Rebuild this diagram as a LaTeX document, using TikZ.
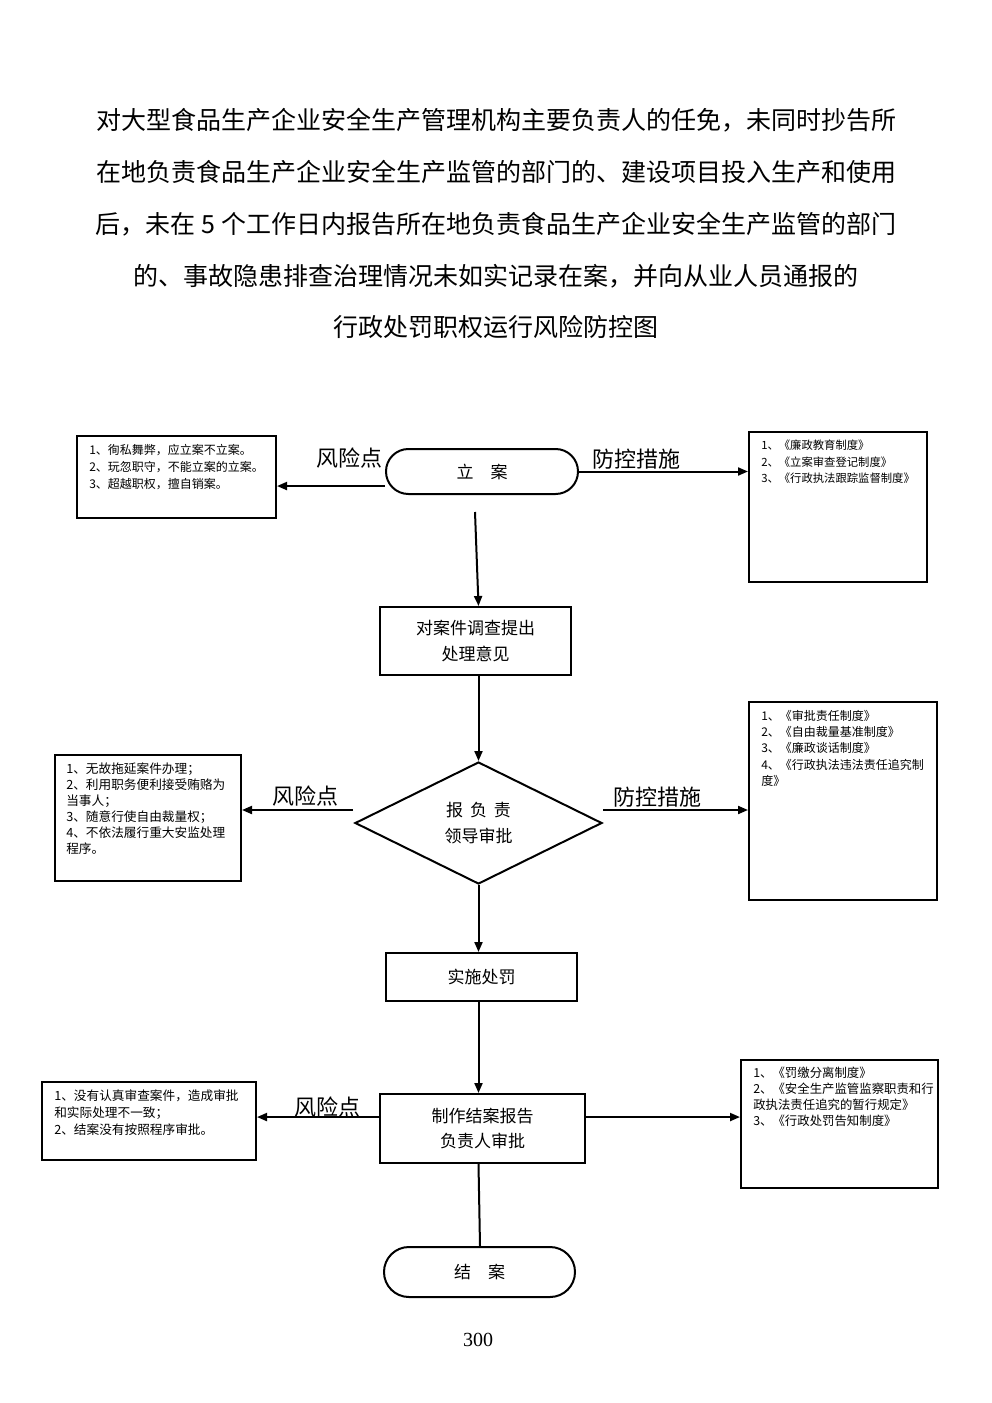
\documentclass[tikz,border=0pt]{standalone}
\usepackage{fontspec}
\setmainfont{Liberation Serif}
\newfontfamily\cjk{Noto Sans CJK SC}
\usetikzlibrary{arrows.meta,shapes.geometric}
\begin{document}
\begin{tikzpicture}[x=0.75pt,y=-0.75pt,
  every node/.style={font=\cjk},
  conn/.style={line width=1.5pt,-{Triangle[length=7.5pt,width=6pt]}},
  plainline/.style={line width=1.5pt},
  boxx/.style={draw,line width=1.5pt,inner sep=0pt},
  stad/.style={draw,line width=1.5pt,inner sep=0pt,rounded corners=16pt},
  lab/.style={font=\cjk\fontsize{12.75pt}{19pt}\selectfont,align=center},
  big/.style={font=\cjk\fontsize{16.5pt}{20pt}\selectfont},
  small/.style={anchor=north west,inner sep=0pt,align=left},
  ttl/.style={font=\cjk\fontsize{18.75pt}{22pt}\selectfont}
]
\useasboundingbox (0,0) rectangle (992,1403);
% title
\node[ttl] (t1) at (496,120) {对大型食品生产企业安全生产管理机构主要负责人的任免，未同时抄告所};
\node[ttl] (t2) at (496,172) {在地负责食品生产企业安全生产监管的部门的、建设项目投入生产和使用};
\node[ttl] (t3) at (496,224) {后，未在 5 个工作日内报告所在地负责食品生产企业安全生产监管的部门};
\node[ttl] (t4) at (496,276) {的、事故隐患排查治理情况未如实记录在案，并向从业人员通报的};
\node[ttl] (t5) at (496,327) {行政处罚职权运行风险防控图};

% main flow
\node[stad,minimum width=144pt,minimum height=33.75pt,rounded corners=16.8pt,lab] (st1) at (482,471.5) {立\hspace{1em}案};
\node[boxx,minimum width=143.25pt,minimum height=51pt,lab] (b1) at (475.5,641) {对案件调查提出\\处理意见};
\node[draw,diamond,line width=1.5pt,inner sep=0pt,minimum width=185.25pt,minimum height=91.5pt,lab] (d) at (478.5,823) {报\hspace{0.4em}负\hspace{0.4em}责\\领导审批};
\node[boxx,minimum width=143.25pt,minimum height=36pt,lab] (b2) at (481.5,977) {实施处罚};
\node[boxx,minimum width=153.75pt,minimum height=51.75pt,lab] (b3) at (482.5,1128.5) {制作结案报告\\负责人审批};
\node[stad,minimum width=143.25pt,minimum height=37.5pt,rounded corners=18.7pt,lab] (st2) at (479.5,1272) {结\hspace{1em}案};

% side boxes
\node[boxx,minimum width=149.25pt,minimum height=61.5pt] (rl1) at (176.5,477) {};
\node[boxx,minimum width=133.5pt,minimum height=112.5pt] (pr1) at (838,507) {};
\node[boxx,minimum width=139.5pt,minimum height=94.5pt] (rl2) at (148,818) {};
\node[boxx,minimum width=141pt,minimum height=148.5pt] (pr2) at (843,801) {};
\node[boxx,minimum width=160.5pt,minimum height=58.5pt] (rl3) at (149,1121) {};
\node[boxx,minimum width=147.75pt,minimum height=96pt] (pr3) at (839.5,1124) {};

% side texts
\node[small,font=\cjk\fontsize{9pt}{12.75pt}\selectfont] (rl1t) at (89,444) {1、徇私舞弊，应立案不立案。\\2、玩忽职守，不能立案的立案。\\3、超越职权，擅自销案。};
\node[small,font=\cjk\fontsize{8.5pt}{12.4pt}\selectfont] (pr1t) at (761,440) {1、《廉政教育制度》\\2、《立案审查登记制度》\\3、《行政执法跟踪监督制度》};
\node[small,font=\cjk\fontsize{9.5pt}{12pt}\selectfont] (rl2t) at (66,763) {1、无故拖延案件办理；\\2、利用职务便利接受贿赂为\\当事人；\\3、随意行使自由裁量权；\\4、不依法履行重大安监处理\\程序。};
\node[small,font=\cjk\fontsize{9pt}{12.2pt}\selectfont] (pr2t) at (761,710) {1、《审批责任制度》\\2、《自由裁量基准制度》\\3、《廉政谈话制度》\\4、《行政执法违法责任追究制\\度》};
\node[small,font=\cjk\fontsize{9.5pt}{12.75pt}\selectfont] (rl3t) at (54,1089) {1、没有认真审查案件，造成审批\\和实际处理不一致；\\2、结案没有按照程序审批。};
\node[small,font=\cjk\fontsize{9.3pt}{12pt}\selectfont] (pr3t) at (753,1067) {1、《罚缴分离制度》\\2、《安全生产监管监察职责和行\\政执法责任追究的暂行规定》\\3、《行政处罚告知制度》};

% labels
\node[big] (f1) at (349,458) {风险点};
\node[big] (p1) at (636,459) {防控措施};
\node[big] (f2) at (305,796) {风险点};
\node[big] (p2) at (657,797) {防控措施};
\node[big] (f3) at (327,1107) {风险点};

% connectors
\coordinate (c1) at (475,512);
\coordinate (c2) at (353,810);
\coordinate (c3) at (603,810);
\draw[conn] ([yshift=-10.9pt]st1.west) -- ([yshift=-10.9pt]st1.west -| rl1.east);
\draw[conn] (st1.east) -- (st1.east -| pr1.west);
\draw[conn] (c1) -- (b1.north -| d.north);
\draw[conn] (b1.south -| d.north) -- (d.north);
\draw[conn] (c2) -- (c2 -| rl2.east);
\draw[conn] (c3) -- (c3 -| pr2.west);
\draw[conn] (d.south) -- (d.south |- b2.north);
\draw[conn] (b2.south -| d.south) -- (b3.north -| d.south);
\draw[conn] ([yshift=8.6pt]b3.west) -- ([yshift=8.6pt]b3.west -| rl3.east);
\draw[conn] ([yshift=8.6pt]b3.east) -- ([yshift=8.6pt]b3.east -| pr3.west);
\draw[plainline] (b3.south -| d.south) -- (st2.north -| 480,0);

\node[font=\fontsize{15pt}{18pt}\selectfont] (pg) at (478,1340) {300};
\end{tikzpicture}
\end{document}
